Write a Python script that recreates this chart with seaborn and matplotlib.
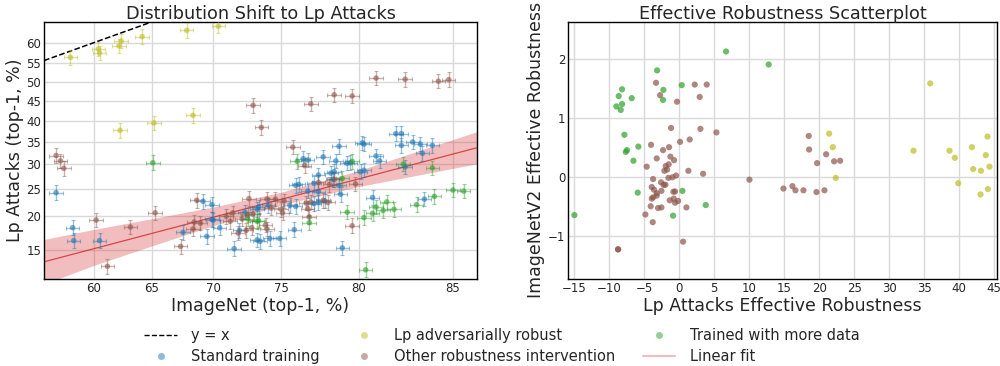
import numpy as np
import pandas as pd
import matplotlib
matplotlib.use("Agg")
import matplotlib.pyplot as plt
import seaborn as sns
from matplotlib.lines import Line2D
from matplotlib.ticker import NullLocator

# ---------------- data: left panel (ImageNet vs Lp attacks, top-1 %) ----------------
std_imagenet = [56.6, 58.1, 58.2, 60.5, 67.6, 69.5, 71.6, 70.5, 69.9, 70.0, 69.2, 69.9,
                72.4, 73.3, 73.3, 72.0, 73.4, 73.5, 74.2, 74.1, 75.6, 76.0, 77.2, 77.5,
                77.9, 75.9, 79.0, 76.2, 77.2, 76.8, 77.5, 78.8, 78.9, 78.4, 77.5, 78.3,
                78.5, 80.1, 80.3, 78.6, 79.3, 79.5, 76.5, 76.8, 77.8, 78.8, 80.2, 80.3,
                81.0, 81.2, 82.1, 82.4, 82.4, 83.0, 83.4, 84.0, 83.5, 82.6, 80.8, 83.6,
                74.9, 76.0]
std_lp = [24.2, 18.2, 16.3, 16.3, 17.5, 16.9, 15.2, 18.2, 19.5, 19.4, 22.6, 22.0,
          20.7, 21.2, 16.4, 17.8, 21.6, 16.2, 16.6, 21.9, 21.9, 21.7, 22.2, 22.4,
          22.7, 17.9, 15.3, 25.8, 26.0, 24.5, 24.4, 25.6, 23.9, 26.8, 27.7, 28.1,
          28.4, 28.4, 28.7, 30.7, 30.2, 30.3, 31.2, 30.9, 31.6, 34.0, 34.8, 34.5,
          31.8, 30.7, 37.0, 37.0, 34.2, 35.0, 34.5, 34.2, 32.4, 29.4, 23.3, 23.0,
          16.6, 25.6]

lpadv_imagenet = [57.9, 60.4, 60.5, 62.2, 62.4, 64.2, 67.9, 70.4, 62.3, 65.2, 68.4]
lpadv_lp = [56.3, 58.4, 57.4, 59.2, 60.4, 61.5, 63.0, 64.0, 37.8, 39.6, 41.5]

other_imagenet = [56.6, 57.0, 57.3, 68.7, 72.7, 65.3, 60.2, 63.2, 61.2, 67.4, 68.5, 69.0,
                  68.4, 71.5, 72.6, 71.9, 72.5, 72.2, 77.5, 78.5, 78.2, 79.8, 74.0, 74.6,
                  75.2, 77.0, 76.7, 77.8, 78.1, 74.3, 75.0, 75.1, 76.8, 76.9, 73.9, 74.0,
                  79.6, 73.0, 73.6, 77.0, 78.5, 79.6, 81.0, 82.6, 84.3, 84.8, 75.8, 76.6,
                  71.0, 73.0, 72.9, 71.3]
other_lp = [31.9, 30.7, 29.1, 22.8, 23.1, 20.6, 19.4, 18.3, 13.0, 15.5, 19.1, 18.9,
            18.0, 20.6, 20.2, 17.4, 17.8, 19.6, 26.2, 26.8, 25.8, 25.9, 23.0, 23.0,
            22.7, 22.5, 22.3, 22.8, 22.4, 21.4, 21.2, 20.6, 21.3, 19.9, 18.6, 18.0,
            18.5, 44.0, 38.5, 44.4, 46.7, 46.4, 51.0, 50.7, 50.2, 50.6, 33.8, 29.7,
            20.0, 20.4, 18.2, 19.2]

more_imagenet = [65.1, 72.6, 73.3, 76.1, 79.6, 79.0, 82.5, 84.0, 85.0, 85.5, 84.1, 83.2,
                 81.6, 82.0, 81.4, 81.0, 80.8, 80.3, 79.3, 76.9, 80.4, 73.4]
more_lp = [30.3, 19.6, 19.2, 30.6, 30.6, 27.0, 30.0, 29.2, 24.7, 24.5, 23.5, 22.0,
           22.5, 21.2, 21.0, 21.6, 20.5, 19.8, 20.7, 19.0, 12.6, 19.3]

# confidence half-widths (logit units) of the error bars
x_ci = 0.025
y_ci = 0.075

# linear fit (in logit space) and its confidence band
fit_x = [55.5, 86.1]
fit_y = [13.53, 33.67]
band_x = [55.5, 60.0, 65.0, 70.0, 75.0, 80.0, 86.1]
band_lo = [11.05, 13.11, 15.56, 18.51, 21.94, 25.39, 30.08]
band_hi = [16.46, 17.94, 19.61, 21.59, 24.29, 28.64, 37.47]

# ---------------- data: right panel (effective robustness) ----------------
er_lpadv_x = [21.43, 21.95, 22.38, 33.48, 35.86, 38.62, 39.38, 39.86, 41.81, 42.0, 43.1,
              43.05, 43.8, 44.05, 44.1, 44.33]
er_lpadv_y = [0.74, 0.51, -0.01, 0.45, 1.59, 0.45, 0.33, -0.10, 0.51, 0.14, 0.11,
              -0.29, 0.375, 0.69, -0.2, 0.18]

er_more_x = [6.71, 12.8, -3.14, -8.14, -8.62, -8.14, -8.95, -8.33, -6.76, -2.24, -2.29,
             0.38, -7.81, -7.43, -7.62, -5.81, -6.52, -5.9, 0.48, 3.81, -0.86, -14.95]
er_more_y = [2.13, 1.91, 1.81, 1.49, 1.375, 1.24, 1.20, 1.14, 1.34, 1.48, 1.31,
             1.56, 0.72, 0.46, 0.43, 0.52, 0.28, -0.26, -0.23, -0.47, -0.65, -0.64]

er_other_x = [-3.29, -2.71, -0.29, 2.24, 3.95, 2.95, -1.14, 3.05, 5.33, 1.52, 0.14, -4.0,
              -1.43, -2.29, -4.62, -3.19, -1.24, -0.71, -1.48, -1.9, -1.71, -2.1, 1.33,
              3.43, -0.43, -0.95, -1.52, -3.71, 10.05, -2.57, -1.95, -2.19, -3.9, -3.57,
              -2.52, -0.81, -0.57, -3.19, -3.71, -3.9, -3.19, -0.76, -0.14, -1.33, -0.57,
              -4.05, -3.0, -2.52, 1.05, -4.81, -3.76, 0.57, -8.71, -8.71,
              18.52, 18.57, 19.71, 21.0, 22.14, 23.0, 14.9, 16.19, 16.62, 17.76, 19.62, 20.76]
er_other_y = [1.60, 1.39, 1.28, 1.57, 1.57, 1.36, 0.835, 0.82, 0.76, 0.64, 0.60, 0.55,
              0.51, 0.46, 0.18, 0.32, 0.35, 0.29, 0.22, 0.19, 0.13, 0.11, 0.11,
              0.06, 0.03, 0.0, -0.01, -0.03, -0.04, -0.085, -0.125, -0.13, -0.165, -0.21,
              -0.23, -0.245, -0.24, -0.27, -0.34, -0.36, -0.31, -0.36, -0.40, -0.39, -0.43,
              -0.49, -0.52, -0.51, -0.51, -0.63, -0.76, -1.09, -1.22, -1.22,
              0.70, 0.47, 0.24, 0.39, 0.27, 0.28, -0.19, -0.15, -0.22, -0.22, -0.25, -0.22]

C_STD = "#1f77b4"
C_LPADV = "#bcbd22"
C_OTHER = "#8c564b"
C_MORE = "#2ca02c"
C_FIT = "#d62728"


def fwd(p):
    q = np.clip(np.asarray(p, dtype=float) / 100.0, 1e-6, 1 - 1e-6)
    return np.log(q / (1 - q))


def inv(z):
    return 100.0 / (1.0 + np.exp(-np.asarray(z, dtype=float)))


sns.set_theme(style="whitegrid",
              rc={"axes.edgecolor": "black", "axes.linewidth": 1.0,
                  "grid.color": "#d9d9d9", "grid.linewidth": 1.0})
plt.rcParams["font.family"] = ["DejaVu Sans"]

fig = plt.figure(figsize=(10, 3.66), dpi=100)
ax1 = fig.add_axes([0.044, 0.238, 0.433, 0.702])
ax2 = fig.add_axes([0.568, 0.238, 0.429, 0.702])

# ---------------- left panel ----------------
ax1.set_xscale("function", functions=(fwd, inv))
ax1.set_yscale("function", functions=(fwd, inv))
ax1.set_xlim(55.5, 86.1)
ax1.set_ylim(11.6, 65.0)

ax1.fill_between(band_x, band_lo, band_hi, color=C_FIT, alpha=0.3, lw=0, zorder=1)
ax1.plot(fit_x, fit_y, color=C_FIT, lw=0.9, alpha=0.8, zorder=2)
lims = [55.5, 65.0]
ax1.plot(lims, lims, color="black", ls="--", lw=1.1, zorder=3)

groups = [
    (std_imagenet, std_lp, C_STD),
    (lpadv_imagenet, lpadv_lp, C_LPADV),
    (other_imagenet, other_lp, C_OTHER),
    (more_imagenet, more_lp, C_MORE),
]
for xs, ys, col in groups:
    xs = np.asarray(xs)
    ys = np.asarray(ys)
    xerr = [xs - inv(fwd(xs) - x_ci), inv(fwd(xs) + x_ci) - xs]
    yerr = [ys - inv(fwd(ys) - y_ci), inv(fwd(ys) + y_ci) - ys]
    ax1.errorbar(xs, ys, xerr=xerr, yerr=yerr, fmt="none", ecolor=col,
                 elinewidth=1.0, capsize=1.5, capthick=0.8, alpha=0.45, zorder=4)
    df = pd.DataFrame({"x": xs, "y": ys})
    sns.scatterplot(data=df, x="x", y="y", ax=ax1, color=col, s=16,
                    alpha=0.6, edgecolor="none", zorder=5, legend=False)

ax1.set_xticks([60, 65, 70, 75, 80, 85])
ax1.set_xticklabels(["60", "65", "70", "75", "80", "85"])
ax1.set_yticks([15, 20, 25, 30, 35, 40, 45, 50, 55, 60])
ax1.set_yticklabels(["15", "20", "25", "30", "35", "40", "45", "50", "55", "60"])
ax1.xaxis.set_minor_locator(NullLocator())
ax1.yaxis.set_minor_locator(NullLocator())
ax1.set_xlabel("ImageNet (top-1, %)", fontsize=12.5, labelpad=2)
ax1.set_ylabel("Lp Attacks (top-1, %)", fontsize=12.5, labelpad=2)
ax1.set_title("Distribution Shift to Lp Attacks", fontsize=12.7, pad=2)

# ---------------- right panel ----------------
er_groups = [
    (er_other_x, er_other_y, C_OTHER),
    (er_more_x, er_more_y, C_MORE),
    (er_lpadv_x, er_lpadv_y, C_LPADV),
]
for xs, ys, col in er_groups:
    df = pd.DataFrame({"x": xs, "y": ys})
    sns.scatterplot(data=df, x="x", y="y", ax=ax2, color=col, s=20,
                    alpha=0.7, edgecolor="none", legend=False, zorder=3)
ax2.set_xlim(-15.86, 45.4)
ax2.set_ylim(-1.72, 2.63)
ax2.set_xticks(list(range(-15, 50, 5)))
ax2.set_yticks([-1, 0, 1, 2])
ax2.set_xlabel("Lp Attacks Effective Robustness", fontsize=12.5, labelpad=2)
ax2.set_ylabel("ImageNetV2 Effective Robustness", fontsize=12.5, labelpad=2)
ax2.set_title("Effective Robustness Scatterplot", fontsize=12.7, pad=2)

for a in (ax1, ax2):
    a.tick_params(axis="both", labelsize=8.5, pad=2, length=0)
    for s in a.spines.values():
        s.set_color("black")
        s.set_linewidth(1.0)

# ---------------- legend ----------------
def dot(col):
    return Line2D([], [], ls="none", marker="o", markersize=5, color=col,
                  alpha=0.5, markeredgewidth=0)

handles = [
    Line2D([], [], color="black", ls="--", lw=1.0),
    dot(C_STD),
    dot(C_LPADV),
    dot(C_OTHER),
    dot(C_MORE),
    Line2D([], [], color=C_FIT, lw=1.5, alpha=0.3),
]
labels = ["y = x", "Standard training", "Lp adversarially robust",
          "Other robustness intervention", "Trained with more data", "Linear fit"]
fig.legend(handles, labels, ncol=3, loc="lower center", bbox_to_anchor=(0.502, -0.03),
           frameon=False, fontsize=10.5, columnspacing=1.9, handlelength=2.2,
           handletextpad=1.0, labelspacing=0.4)

fig.savefig("out.png", dpi=100)
